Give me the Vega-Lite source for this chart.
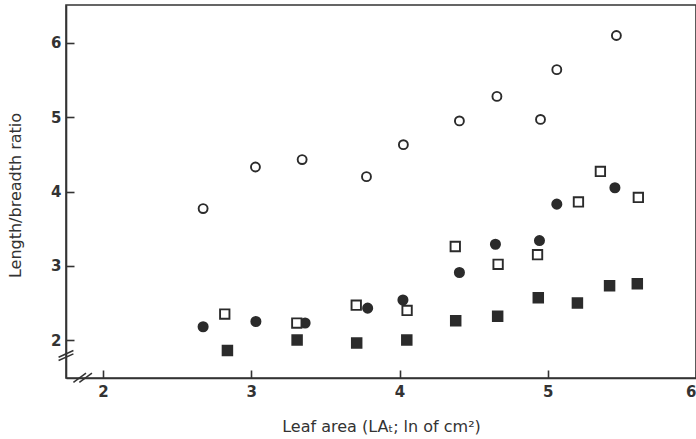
{
  "$schema": "https://vega.github.io/schema/vega-lite/v6.json",
  "autosize": {"type": "none"},
  "padding": {"left": 66, "top": 5, "right": 0, "bottom": 61},
  "width": 630,
  "height": 373,
  "background": "white",
  "view": {"stroke": "#333", "strokeWidth": 1.6},
  "datasets": {
    "leaves": [
      {"series": "A", "area": 2.675, "ratio": 3.77},
      {"series": "A", "area": 3.028, "ratio": 4.33},
      {"series": "A", "area": 3.343, "ratio": 4.43},
      {"series": "A", "area": 3.777, "ratio": 4.20},
      {"series": "A", "area": 4.026, "ratio": 4.63},
      {"series": "A", "area": 4.404, "ratio": 4.95},
      {"series": "A", "area": 4.657, "ratio": 5.28},
      {"series": "A", "area": 4.951, "ratio": 4.97},
      {"series": "A", "area": 5.061, "ratio": 5.64},
      {"series": "A", "area": 5.463, "ratio": 6.10},
      {"series": "B", "area": 2.675, "ratio": 2.18},
      {"series": "B", "area": 3.031, "ratio": 2.25},
      {"series": "B", "area": 3.363, "ratio": 2.23},
      {"series": "B", "area": 3.785, "ratio": 2.43},
      {"series": "B", "area": 4.023, "ratio": 2.54},
      {"series": "B", "area": 4.404, "ratio": 2.91},
      {"series": "B", "area": 4.647, "ratio": 3.29},
      {"series": "B", "area": 4.944, "ratio": 3.34},
      {"series": "B", "area": 5.061, "ratio": 3.83},
      {"series": "B", "area": 5.453, "ratio": 4.05},
      {"series": "C", "area": 2.821, "ratio": 2.35},
      {"series": "C", "area": 3.307, "ratio": 2.23},
      {"series": "C", "area": 3.708, "ratio": 2.47},
      {"series": "C", "area": 4.051, "ratio": 2.40},
      {"series": "C", "area": 4.376, "ratio": 3.26},
      {"series": "C", "area": 4.665, "ratio": 3.02},
      {"series": "C", "area": 4.931, "ratio": 3.15},
      {"series": "C", "area": 5.207, "ratio": 3.86},
      {"series": "C", "area": 5.355, "ratio": 4.27},
      {"series": "C", "area": 5.611, "ratio": 3.92},
      {"series": "D", "area": 2.839, "ratio": 1.86},
      {"series": "D", "area": 3.309, "ratio": 2.00},
      {"series": "D", "area": 3.711, "ratio": 1.96},
      {"series": "D", "area": 4.049, "ratio": 2.00},
      {"series": "D", "area": 4.379, "ratio": 2.26},
      {"series": "D", "area": 4.662, "ratio": 2.32},
      {"series": "D", "area": 4.936, "ratio": 2.57},
      {"series": "D", "area": 5.200, "ratio": 2.50},
      {"series": "D", "area": 5.417, "ratio": 2.73},
      {"series": "D", "area": 5.604, "ratio": 2.76}
    ],
    "breaks": [
      {"x": 1.80, "y": 1.43, "x2": 1.885, "y2": 1.555},
      {"x": 1.84, "y": 1.43, "x2": 1.925, "y2": 1.555},
      {"x": 1.70, "y": 1.77, "x2": 1.80, "y2": 1.86},
      {"x": 1.70, "y": 1.725, "x2": 1.80, "y2": 1.815}
    ]
  },
  "layer": [
    {
      "data": {"name": "leaves"},
      "mark": {"type": "point", "stroke": "#2b2b2b", "strokeWidth": 1.9, "opacity": 1},
      "encoding": {
        "x": {
          "field": "area", "type": "quantitative",
          "scale": {"domain": [1.75, 6.0], "nice": false, "zero": false},
          "axis": {
            "values": [2, 3, 4, 5, 6],
            "format": "d",
            "labelPadding": 14,
            "title": "Leaf area (LAₜ; ln of cm²)",
            "titleBaseline": "alphabetic",
            "titleY": 53
          }
        },
        "y": {
          "field": "ratio", "type": "quantitative",
          "scale": {"domain": [1.49, 6.51], "nice": false, "zero": false},
          "axis": {
            "values": [2, 3, 4, 5, 6],
            "format": "d",
            "labelPadding": 13,
            "title": "Length/breadth ratio",
            "titleBaseline": "middle",
            "titleX": -51,
            "titleY": 190
          }
        },
        "shape": {
          "field": "series", "type": "nominal",
          "scale": {"domain": ["A", "B", "C", "D"], "range": ["circle", "circle", "square", "square"]},
          "legend": null
        },
        "fill": {
          "field": "series", "type": "nominal",
          "scale": {"domain": ["A", "B", "C", "D"], "range": ["#ffffff", "#2b2b2b", "#ffffff", "#2b2b2b"]},
          "legend": null
        },
        "size": {
          "field": "series", "type": "nominal",
          "scale": {"domain": ["A", "B", "C", "D"], "range": [80, 92, 66, 88]},
          "legend": null
        }
      }
    },
    {
      "data": {"name": "breaks"},
      "mark": {"type": "rule", "color": "#333", "strokeWidth": 1.5, "clip": false},
      "encoding": {
        "x": {"field": "x", "type": "quantitative"},
        "y": {"field": "y", "type": "quantitative"},
        "x2": {"field": "x2"},
        "y2": {"field": "y2"}
      }
    }
  ],
  "config": {
    "axis": {
      "grid": false,
      "domainColor": "#333",
      "domainWidth": 1.6,
      "tickColor": "#333",
      "tickWidth": 1.6,
      "tickSize": -8,
      "labelFont": "DejaVu Sans",
      "labelFontWeight": "bold",
      "labelFontSize": 15,
      "labelColor": "#333",
      "titleFont": "DejaVu Sans",
      "titleFontWeight": "normal",
      "titleFontSize": 16,
      "titleColor": "#333"
    }
  }
}
